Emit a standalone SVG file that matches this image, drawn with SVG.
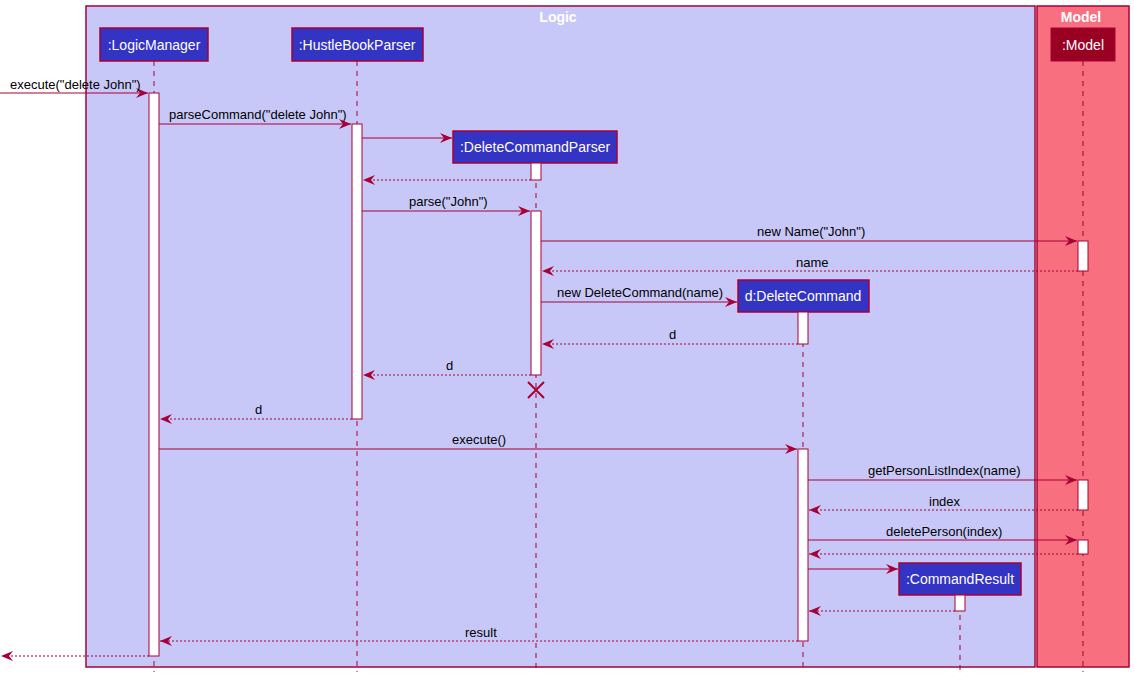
<svg xmlns="http://www.w3.org/2000/svg" width="1134" height="679" viewBox="0 0 1134 679">
<style>
text{font-family:"Liberation Sans",Arial,sans-serif}
.p{fill:#3333C4;stroke:#A80036;stroke-width:1.5}
.pt{fill:#fff;font-size:14px;text-anchor:middle}
.ll{stroke:#A80036;stroke-dasharray:5,5;stroke-width:1}
.act{fill:#fff;stroke:#A80036;stroke-width:1}
.m{stroke:#A80036;stroke-width:1;fill:none}
.r{stroke:#A80036;stroke-width:1;fill:none;stroke-dasharray:2,2}
.l{font-size:13px;fill:#000}
.bt{font-size:14px;font-weight:bold;fill:#fff;text-anchor:middle}
</style>
<defs>
<marker id="a" viewBox="0 0 12 10" refX="12" refY="5" markerWidth="12" markerHeight="10" markerUnits="userSpaceOnUse" orient="auto"><path d="M0,0 L12,5 L0,10 L4,5 Z" fill="#A80036"/></marker>
</defs>
<rect width="1134" height="679" fill="#fff"/>
<g id="box-logic"><rect x="86" y="6" width="949" height="661" fill="#C8C8F8" stroke="#A80036" stroke-width="1.5"/><text class="bt" x="558" y="22">Logic</text></g>
<g id="box-model"><rect x="1037" y="6" width="92" height="661" fill="#F87080" stroke="#A80036" stroke-width="1.5"/><text class="bt" x="1081" y="22">Model</text></g>
<g id="lifelines">
<line class="ll" x1="154" y1="61" x2="154" y2="672"/>
<line class="ll" x1="357" y1="61" x2="357" y2="672"/>
<line class="ll" x1="536" y1="163" x2="536" y2="672"/>
<line class="ll" x1="803" y1="312" x2="803" y2="672"/>
<line class="ll" x1="960" y1="595" x2="960" y2="672"/>
<line class="ll" x1="1083" y1="61" x2="1083" y2="672"/>
</g>
<g id="LogicManager"><rect class="p" x="100" y="28" width="108" height="33"/><text class="pt" x="154" y="50">:LogicManager</text><rect class="act" x="149" y="93" width="10" height="563"/></g>
<g id="HustleBookParser"><rect class="p" x="292" y="28" width="131" height="33"/><text class="pt" x="357" y="50">:HustleBookParser</text><rect class="act" x="352" y="124" width="10" height="295"/></g>
<g id="DeleteCommandParser"><rect class="p" x="453" y="131" width="164" height="32"/><text class="pt" x="535" y="152">:DeleteCommandParser</text><rect class="act" x="531" y="163" width="10" height="17"/><rect class="act" x="531" y="211" width="10" height="164"/>
<path d="M528,382 L544,398 M544,382 L528,398" stroke="#A80036" stroke-width="2"/></g>
<g id="DeleteCommand"><rect class="p" x="738" y="280" width="131" height="32"/><text class="pt" x="803" y="301">d:DeleteCommand</text><rect class="act" x="798" y="312" width="10" height="32"/><rect class="act" x="798" y="449" width="10" height="192"/></g>
<g id="CommandResult"><rect class="p" x="899" y="563" width="122" height="32"/><text class="pt" x="960" y="584">:CommandResult</text><rect class="act" x="955" y="595" width="10" height="16"/></g>
<g id="Model"><rect x="1051" y="28" width="64" height="33" fill="#990022" stroke="#A80036" stroke-width="1"/><text class="pt" x="1083" y="50">:Model</text><rect class="act" x="1078" y="241" width="10" height="30"/><rect class="act" x="1078" y="480" width="10" height="30"/><rect class="act" x="1078" y="540" width="10" height="14"/></g>
<g id="connectors">
<line class="m" x1="0" y1="93" x2="148" y2="93" marker-end="url(#a)"/><text class="l" x="10" y="89">execute("delete John")</text>
<line class="m" x1="159" y1="124" x2="351" y2="124" marker-end="url(#a)"/><text class="l" x="169" y="119">parseCommand("delete John")</text>
<line class="m" x1="362" y1="138" x2="452" y2="138" marker-end="url(#a)"/>
<line class="r" x1="531" y1="180" x2="363" y2="180" marker-end="url(#a)"/>
<line class="m" x1="362" y1="211" x2="530" y2="211" marker-end="url(#a)"/><text class="l" x="409" y="206">parse("John")</text>
<line class="m" x1="541" y1="241" x2="1077" y2="241" marker-end="url(#a)"/><text class="l" x="757" y="236">new Name("John")</text>
<line class="r" x1="1078" y1="271" x2="542" y2="271" marker-end="url(#a)"/><text class="l" x="796" y="267">name</text>
<line class="m" x1="541" y1="302" x2="737" y2="302" marker-end="url(#a)"/><text class="l" x="557" y="297">new DeleteCommand(name)</text>
<line class="r" x1="798" y1="344" x2="542" y2="344" marker-end="url(#a)"/><text class="l" x="669" y="339">d</text>
<line class="r" x1="531" y1="375" x2="363" y2="375" marker-end="url(#a)"/><text class="l" x="446" y="370">d</text>
<line class="r" x1="352" y1="419" x2="160" y2="419" marker-end="url(#a)"/><text class="l" x="255" y="414">d</text>
<line class="m" x1="159" y1="449" x2="797" y2="449" marker-end="url(#a)"/><text class="l" x="452" y="444">execute()</text>
<line class="m" x1="808" y1="480" x2="1077" y2="480" marker-end="url(#a)"/><text class="l" x="868" y="475">getPersonListIndex(name)</text>
<line class="r" x1="1078" y1="510" x2="809" y2="510" marker-end="url(#a)"/><text class="l" x="929" y="506">index</text>
<line class="m" x1="808" y1="540" x2="1077" y2="540" marker-end="url(#a)"/><text class="l" x="886" y="536">deletePerson(index)</text>
<line class="r" x1="1078" y1="554" x2="809" y2="554" marker-end="url(#a)"/>
<line class="m" x1="808" y1="569" x2="898" y2="569" marker-end="url(#a)"/>
<line class="r" x1="955" y1="611" x2="809" y2="611" marker-end="url(#a)"/>
<line class="r" x1="798" y1="641" x2="160" y2="641" marker-end="url(#a)"/><text class="l" x="465" y="637">result</text>
<line class="r" x1="149" y1="656" x2="1" y2="656" marker-end="url(#a)"/>
</g>
</svg>
